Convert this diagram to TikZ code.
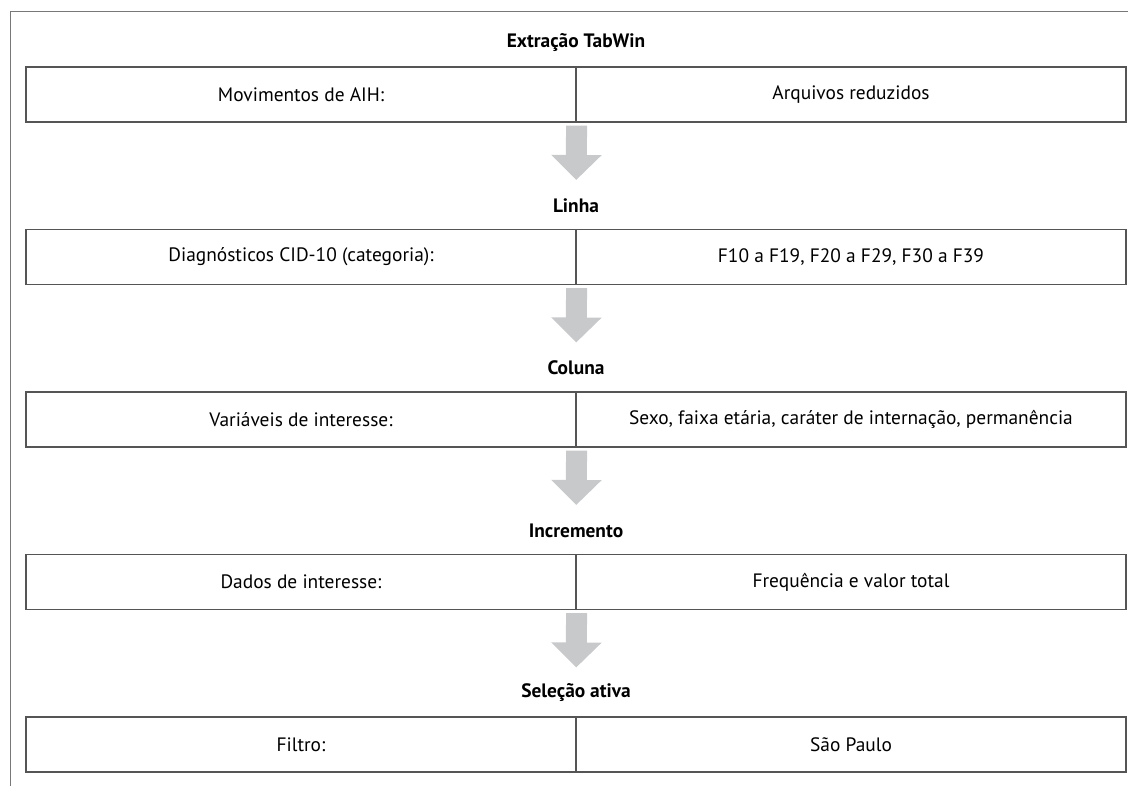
\documentclass[tikz,border=0pt]{standalone}
\usepackage{fontspec}
\setmainfont{PT Sans}
\usetikzlibrary{arrows.meta}

\definecolor{boxgray}{RGB}{85,85,85}
\definecolor{framegray}{RGB}{120,120,120}
\definecolor{arrowgray}{RGB}{200,201,203}

\tikzset{
    heading/.style={font=\bfseries\fontsize{19.4}{23}\selectfont, inner sep=0pt},
    cellbox/.style={draw=boxgray, line width=1.2pt, minimum width=550pt,
        minimum height=55pt, inner sep=0pt, font=\fontsize{19.4}{23}\selectfont},
    flow/.style={draw=arrowgray, line width=21pt,
        -{Triangle[width=49pt,length=25pt]}, shorten <=3pt, shorten >=25.5pt},
}

\begin{document}
\begin{tikzpicture}[x=1pt, y=-1pt]
        \useasboundingbox (0,0) rectangle (1128,786);
        % outer frame
        \draw[framegray, line width=1pt] (1128,12) -- (10,12) -- (10,786);

        \node[heading] (t1) at (576,43) {Extração TabWin};
        \node[cellbox] (l1) at (301,94.5) {Movimentos de AIH:};
        \node[cellbox] (r1) at (851,94.5) {Arquivos reduzidos};

        \node[heading] (t2) at (576,205.5) {Linha};
        \node[cellbox] (l2) at (301,257) {Diagnósticos CID-10 (categoria):};
        \node[cellbox] (r2) at (851,257) {F10 a F19, F20 a F29, F30 a F39};

        \node[heading] (t3) at (576,368) {Coluna};
        \node[cellbox] (l3) at (301,419.5) {Variáveis de interesse:};
        \node[cellbox] (r3) at (851,419.5) {Sexo, faixa etária, caráter de internação, permanência};

        \node[heading] (t4) at (576,530.5) {Incremento};
        \node[cellbox] (l4) at (301,582) {Dados de interesse:};
        \node[cellbox] (r4) at (851,582) {Frequência e valor total};

        \node[heading] (t5) at (576,693) {Seleção ativa};
        \node[cellbox] (l5) at (301,744.5) {Filtro:};
        \node[cellbox] (r5) at (851,744.5) {São Paulo};

        % arrows between steps
        \draw[flow] (l1.south east) -- (t2.center);
        \draw[flow] (l2.south east) -- (t3.center);
        \draw[flow] (l3.south east) -- (t4.center);
        \draw[flow] (l4.south east) -- (t5.center);
\end{tikzpicture}
\end{document}
